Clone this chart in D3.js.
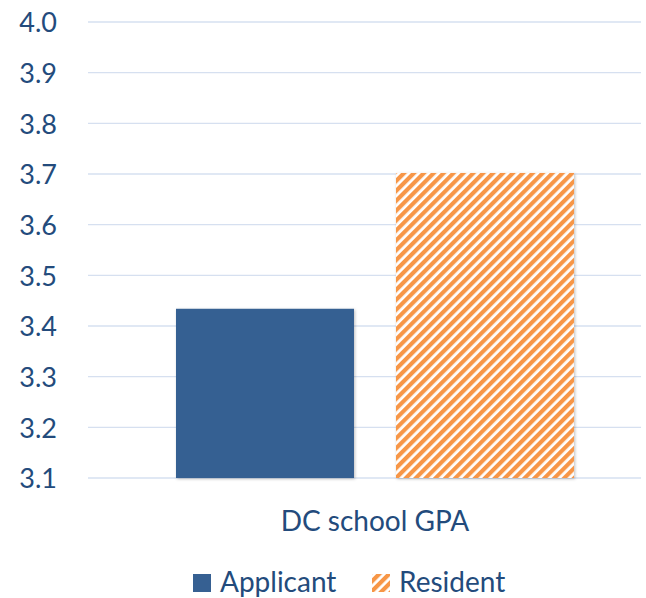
<!DOCTYPE html>
<html><head><meta charset="utf-8">
<script src="https://cdn.jsdelivr.net/npm/d3@7"></script>
<style>body{margin:0;background:#fff}svg{display:block}</style>
</head><body>
<script>
const categories = ["DC school GPA"];
const seriesNames = ["Applicant", "Resident"];
const applicantValues = [3.434];
const residentValues = [3.702];
const yTicks = [3.1, 3.2, 3.3, 3.4, 3.5, 3.6, 3.7, 3.8, 3.9, 4.0];

const W = 646, H = 598;
const font = "Lato, 'Open Sans', sans-serif";
const textColor = "#234b7c";
const svg = d3.select("body").append("svg").attr("width", W).attr("height", H);

const defs = svg.append("defs");
const pat = defs.append("pattern").attr("id", "hatch").attr("patternUnits", "userSpaceOnUse")
  .attr("width", 7).attr("height", 7).attr("patternTransform", "rotate(45)");
pat.append("rect").attr("width", 7).attr("height", 7).attr("fill", "#ffffff");
pat.append("rect").attr("width", 4.2).attr("height", 7).attr("fill", "#f79646");
const sh = defs.append("filter").attr("id", "shadow").attr("x", "-10%").attr("y", "-10%").attr("width", "120%").attr("height", "120%");
sh.append("feDropShadow").attr("dx", 1).attr("dy", 1).attr("stdDeviation", 1.5).attr("flood-color", "#000").attr("flood-opacity", 0.25);

const x0 = 88, xGridEnd = 641, xPlotEnd = 662;
const y = d3.scaleLinear().domain([3.1, 4.0]).range([478, 22]);
const xc = d3.scaleBand().domain(categories).range([x0, xPlotEnd]);
const xs = d3.scaleBand().domain(seriesNames).range([0, xc.bandwidth()]).paddingInner(0.191).paddingOuter(0.4);

// gridlines
svg.append("g").selectAll("line").data(yTicks).join("line")
  .attr("x1", x0).attr("x2", xGridEnd).attr("y1", d => y(d)).attr("y2", d => y(d))
  .attr("stroke", "#d6e0f0").attr("stroke-width", 1.3);

// y axis labels
const yAxis = d3.axisLeft(y).tickValues(yTicks).tickFormat(d3.format(".1f")).tickSize(0).tickPadding(0);
const gy = svg.append("g").attr("transform", "translate(57,0)").call(yAxis);
gy.select(".domain").remove();
gy.selectAll("text").attr("font-family", font).attr("font-size", 27).attr("fill", textColor).attr("dy", "0.36em");

const series = [
  {name: "Applicant", values: applicantValues, fill: "#366092"},
  {name: "Resident", values: residentValues, fill: "url(#hatch)"}
];
series.forEach(s => {
  svg.append("g").selectAll("rect").data(categories).join("rect")
    .attr("x", (c) => xc(c) + xs(s.name))
    .attr("width", xs.bandwidth())
    .attr("y", (c, i) => y(s.values[i]))
    .attr("height", (c, i) => y(3.1) - y(s.values[i]))
    .attr("fill", s.fill)
    .attr("filter", "url(#shadow)");
});

// category label
svg.append("g").selectAll("text").data(categories).join("text")
  .attr("x", c => xc(c) + xc.bandwidth() / 2).attr("y", 531)
  .attr("text-anchor", "middle").attr("font-family", font).attr("font-size", 28).attr("fill", textColor)
  .text(c => c);

// legend
const legendItems = [
  {name: seriesNames[0], fill: "#366092", x: 193},
  {name: seriesNames[1], fill: "url(#hatch)", x: 372}
];
const lg = svg.append("g");
legendItems.forEach(li => {
  lg.append("rect").attr("x", li.x).attr("y", 574).attr("width", 18).attr("height", 18).attr("fill", li.fill);
  lg.append("text").attr("x", li.x + 27).attr("y", 592).attr("font-family", font).attr("font-size", 28)
    .attr("fill", textColor).text(li.name);
});
</script>
</body></html>
